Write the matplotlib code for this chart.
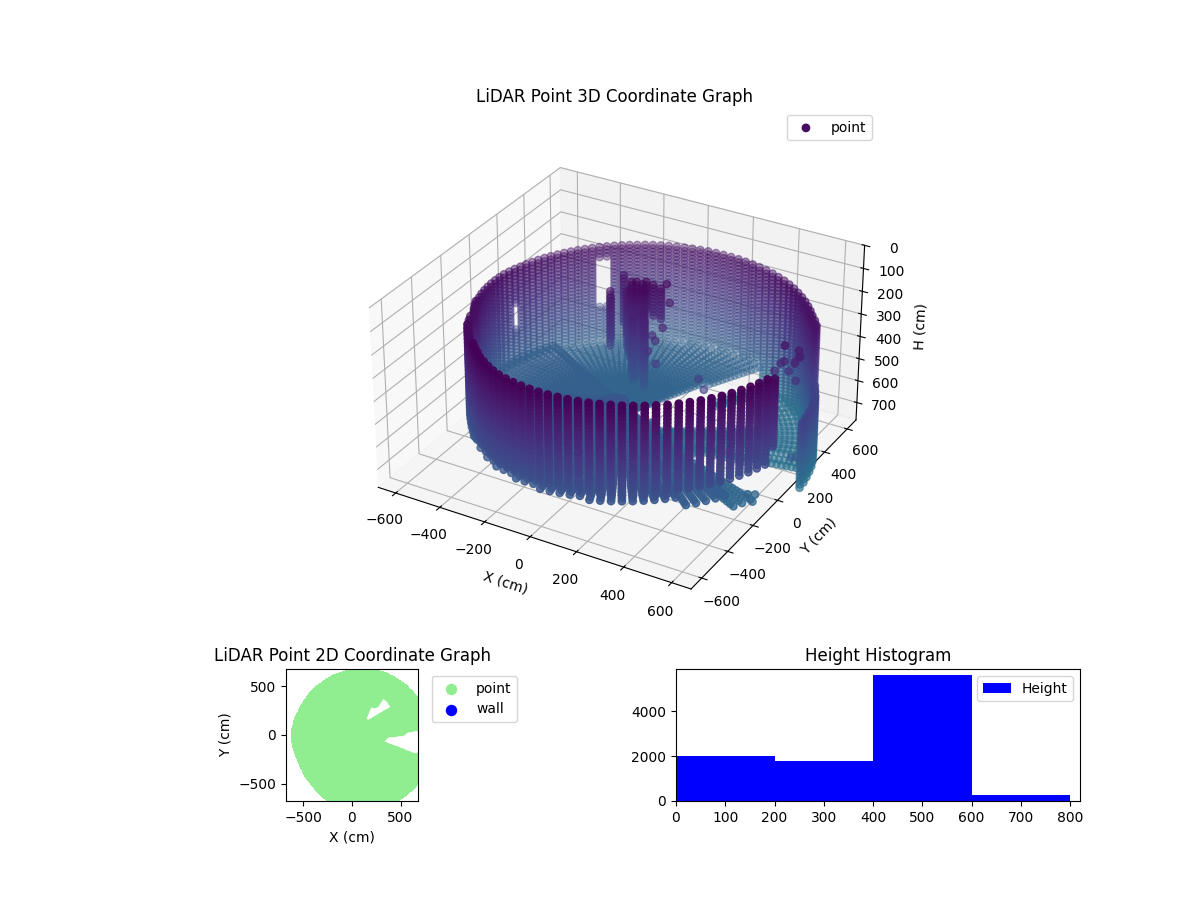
import numpy as np
import matplotlib
matplotlib.use("Agg")
import matplotlib.pyplot as plt

# scan readings (deg, cm)
scan_az = [0, 3, 6, 9, 12, 15, 18, 21, 24, 27, 30, 33, 36, 39, 42, 45, 48, 51, 54, 57, 60, 63, 66, 69, 72, 75, 78, 81, 84, 87,
           90, 93, 96, 99, 102, 105, 108, 111, 114, 117, 120, 123, 126, 129, 132, 135, 138, 141, 144, 147, 150, 153, 156, 159, 162, 165, 168, 171, 174, 177,
           180, 183, 186, 189, 192, 195, 198, 201, 204, 207, 210, 213, 216, 219, 222, 225, 228, 231, 234, 237, 240, 243, 246, 249, 252, 255, 258, 261, 264, 267,
           270, 273, 276, 279, 282, 285, 288, 291, 294, 297, 300, 303, 306, 309, 312, 315, 318, 321, 324, 327, 330, 333, 336, 339, 342, 345, 348, 351, 354, 357]
wall_range = [770, 767, 763, 760, 757, 753, 745, 740, 735, 728, 720, 716, 712, 708, 704, 700, 696, 692, 687, 681, 676, 670, 664, 658, 652, 647, 641, 635, 630, 625,
              619, 614, 609, 604, 600, 595, 591, 587, 582, 579, 576, 573, 570, 568, 565, 563, 562, 560, 559, 558, 558, 558, 558, 558, 559, 560, 562, 564, 566, 566,
              566, 566, 566, 566, 566, 565, 564, 563, 562, 561, 560, 572, 578, 585, 590, 595, 600, 607, 614, 622, 632, 642, 652, 665, 675, 685, 695, 704, 710, 716,
              721, 726, 731, 736, 740, 745, 749, 753, 757, 760, 764, 767, 770, 772, 775, 777, 778, 780, 781, 782, 782, 782, 782, 781, 781, 779, 778, 776, 774, 772]
wall_layers = [110, 125, 140, 155, 170, 185, 200, 215, 230, 245, 260, 275, 290, 305, 320, 335, 350, 365, 380, 395, 410, 425, 440, 455, 470, 485, 500, 515, 530, 545, 560, 575, 590, 605, 620, 635, 650, 665, 680, 695]

# wall extent per azimuth span
span_lo = [0, 24, 66, 126, 126, 132, 168, 168, 171, 201, 222, 240, 315, 345]
span_hi = [21, 63, 123, 129, 129, 165, 168, 168, 198, 219, 237, 312, 342, 345]
span_top = [400, 170, 170, 170, 430, 170, 170, 430, 170, 155, 140, 110, 110, 125]
span_bottom = [695, 695, 600, 215, 600, 600, 330, 600, 600, 550, 530, 490, 480, 410]

floor_rings = [30, 50, 70, 90, 110, 130, 150, 170, 190, 210, 230, 250, 270, 290, 310, 330, 350, 370, 390, 410, 430, 450, 470, 490, 510, 530, 550, 570, 590, 610, 630, 650, 670, 690, 710, 730, 750]
# floor height per azimuth span
floor_lo = [0, 15, 63, 150, 201, 240, 318, 333, 345]
floor_hi = [12, 60, 147, 198, 237, 315, 330, 342, 357]
floor_z = [690, 680, 600, 570, 550, 520, 560, 620, 670]

# unseen floor wedges
gap_az_lo = [33, 32, 342, 0, 0]
gap_az_hi = [63, 55, 360, 3, 6]
gap_r_lo = [150, 400, 280, 330, 520]
gap_r_hi = [400, 540, 900, 520, 900]

# tall object, columns of returns
col_x = [-60, -45, -30, -15, 0, -75, -90, -115, -140, -170, -30, 15, 30, -150, -165, -12, 10, 35]
col_y = [180, 190, 170, 185, 175, 195, 210, 240, 280, 310, 140, 140, 120, 170, 200, 208, 225, 240]
col_top = [125, 125, 140, 125, 140, 170, 215, 215, 230, 185, 245, 215, 245, 185, 230, 125, 140, 170]
col_bottom = [530, 485, 530, 455, 455, 470, 455, 455, 425, 395, 530, 470, 530, 425, 410, 245, 275, 290]

# loose returns
loose_x = [40, 60, 90, 110, 70, 100, 80, 120, 670, 680, 660, 650, 640, 630, 670, 630, 620, 600, 590, 740, 755, 700, 690, 700, 300, 340]
loose_y = [230, 240, 210, 120, 110, 80, 60, 50, 160, 150, 180, 170, 190, 160, 140, 120, 140, 150, 120, -20, -10, -250, -270, -230, 60, 30]
loose_z = [150, 130, 190, 250, 290, 290, 330, 370, 210, 230, 250, 270, 290, 310, 330, 180, 260, 280, 300, 560, 560, 640, 600, 620, 390, 410]

wall_x = []
wall_y = []
hist_edges = [0, 200, 400, 600, 800]
hist_counts = [2000, 1780, 5600, 270]

# columns and loose returns first, polar readings to points after
px = list(loose_x)
py = list(loose_y)
pz = list(loose_z)
for i in range(len(col_x)):
    for z in wall_layers:
        if col_top[i] <= z <= col_bottom[i]:
            px.append(col_x[i])
            py.append(col_y[i])
            pz.append(z)

for i, az in enumerate(scan_az):
    t = np.deg2rad(az)
    for lo, hi, top, bottom in zip(span_lo, span_hi, span_top, span_bottom):
        if lo <= az <= hi:
            for z in wall_layers:
                if top <= z <= bottom:
                    px.append(wall_range[i] * np.cos(t))
                    py.append(wall_range[i] * np.sin(t))
                    pz.append(z)
    for lo, hi, z in zip(floor_lo, floor_hi, floor_z):
        if lo <= az <= hi:
            for r in floor_rings:
                if r >= wall_range[i]:
                    continue
                if any(a <= az <= b and c <= r <= d for a, b, c, d in zip(gap_az_lo, gap_az_hi, gap_r_lo, gap_r_hi)):
                    continue
                px.append(r * np.cos(t))
                py.append(r * np.sin(t))
                pz.append(z)
px = np.array(px, dtype=float)
py = np.array(py, dtype=float)
pz = np.array(pz, dtype=float)

fig = plt.figure(figsize=(12, 9), dpi=100)

ax = fig.add_axes([0.125, 0.301, 0.775, 0.569], projection="3d")
ax.scatter(px, py, pz, c=pz, cmap="viridis", vmin=100, vmax=1680, s=28, label="point")
ax.set_xlim(-680, 680)
ax.set_ylim(-680, 680)
ax.set_zlim(780, 0)
ax.set_box_aspect((1360, 1360, 780), zoom=1.03)
ax.set_xticks([-600, -400, -200, 0, 200, 400, 600])
ax.set_yticks([-600, -400, -200, 0, 200, 400, 600])
ax.set_zticks([0, 100, 200, 300, 400, 500, 600, 700])
ax.set_xlabel("X (cm)")
ax.set_ylabel("Y (cm)")
ax.set_zlabel("H (cm)")
ax.set_title("LiDAR Point 3D Coordinate Graph", pad=11)
ax.legend(loc="upper right", bbox_to_anchor=(872 / 1200, 1 - 115 / 900), bbox_transform=fig.transFigure, borderaxespad=0)

ax2 = fig.add_axes([286 / 1200, 99 / 900, 132 / 1200, 132 / 900])
ax2.scatter(px, py, c="lightgreen", s=52, label="point")
ax2.scatter(wall_x, wall_y, c="blue", s=52, label="wall")
ax2.set_xlim(-680, 680)
ax2.set_ylim(-680, 680)
ax2.set_aspect("equal")
ax2.set_xticks([-500, 0, 500])
ax2.set_yticks([-500, 0, 500])
ax2.set_xlabel("X (cm)")
ax2.set_ylabel("Y (cm)")
ax2.set_title("LiDAR Point 2D Coordinate Graph")
ax2.legend(loc="upper left", bbox_to_anchor=(1.05, 1), borderaxespad=0.5)

ax3 = fig.add_axes([676 / 1200, 99 / 900, 404 / 1200, 132 / 900])
ax3.hist(hist_edges[:-1], bins=hist_edges, weights=hist_counts, color="blue", label="Height")
ax3.set_xlim(0, 820)
ax3.set_title("Height Histogram")
ax3.legend(loc="upper right")

fig.savefig("out.png", dpi=100)
